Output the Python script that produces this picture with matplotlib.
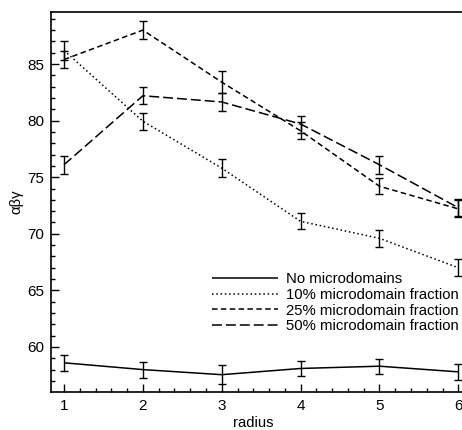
import matplotlib
matplotlib.use("Agg")
import matplotlib.pyplot as plt
from matplotlib.ticker import MultipleLocator

plt.rcParams['font.family'] = ['Liberation Sans', 'DejaVu Sans']

radius = [1, 2, 3, 4, 5, 6]
labels = ["No microdomains", "10% microdomain fraction",
          "25% microdomain fraction", "50% microdomain fraction"]
no_micro = [58.6, 58.0, 57.55, 58.1, 58.3, 57.8]
no_micro_err = [0.7, 0.7, 0.83, 0.7, 0.65, 0.7]
frac10 = [86.2, 79.95, 75.8, 71.1, 69.6, 67.0]
frac10_err = [0.8, 0.75, 0.78, 0.7, 0.75, 0.75]
frac25 = [85.4, 88.0, 83.4, 79.1, 74.2, 72.2]
frac25_err = [0.75, 0.78, 0.95, 0.75, 0.7, 0.75]
frac50 = [76.1, 82.2, 81.65, 79.7, 76.1, 72.3]
frac50_err = [0.8, 0.75, 0.78, 0.75, 0.8, 0.75]

series = [no_micro, frac10, frac25, frac50]
errors = [no_micro_err, frac10_err, frac25_err, frac50_err]
styles = [(0, ()), (0, (1, 1.8)), (0, (3.6, 2.2)), (0, (6.5, 2.6))]

fig = plt.figure(figsize=(4.62, 4.30), dpi=100)
ax = fig.add_axes([51/462, 38/430, 431/462, 380/430])

handles = []
for ys, es, ls, lab in zip(series, errors, styles, labels):
    ax.errorbar(radius, ys, yerr=es, fmt='none', ecolor='black',
                elinewidth=1.0, capsize=3.2, capthick=1.0)
    h, = ax.plot(radius, ys, color='black', lw=1.1, linestyle=ls, label=lab)
    handles.append(h)

ax.set_xlim(0.835, 6.3)
ax.set_ylim(56.02, 89.6)
ax.xaxis.set_major_locator(MultipleLocator(1))
ax.xaxis.set_minor_locator(MultipleLocator(0.2))
ax.yaxis.set_major_locator(MultipleLocator(5))
ax.yaxis.set_minor_locator(MultipleLocator(1))
ax.tick_params(which='both', direction='in', top=False, right=False,
               labelsize=11, width=1.0)
ax.tick_params(which='major', length=6, pad=5.0)
ax.tick_params(which='minor', length=3.2)
for s in ax.spines.values():
    s.set_linewidth(1.2)

ax.set_xlabel('radius', fontsize=10.7)
ax.set_ylabel('αβγ', fontsize=10.7)
ax.xaxis.set_label_coords((253-51)/431, -0.062)
ax.yaxis.set_label_coords(-0.064, 0.5)

fig.legend(handles=handles, loc='upper left',
           bbox_to_anchor=(212/462, 1 - 272/430), bbox_transform=fig.transFigure,
           frameon=False, borderpad=0, borderaxespad=0, handlelength=4.45,
           handletextpad=0.55, labelspacing=0.12, fontsize=10.7)

fig.savefig('out.png', dpi=100)
